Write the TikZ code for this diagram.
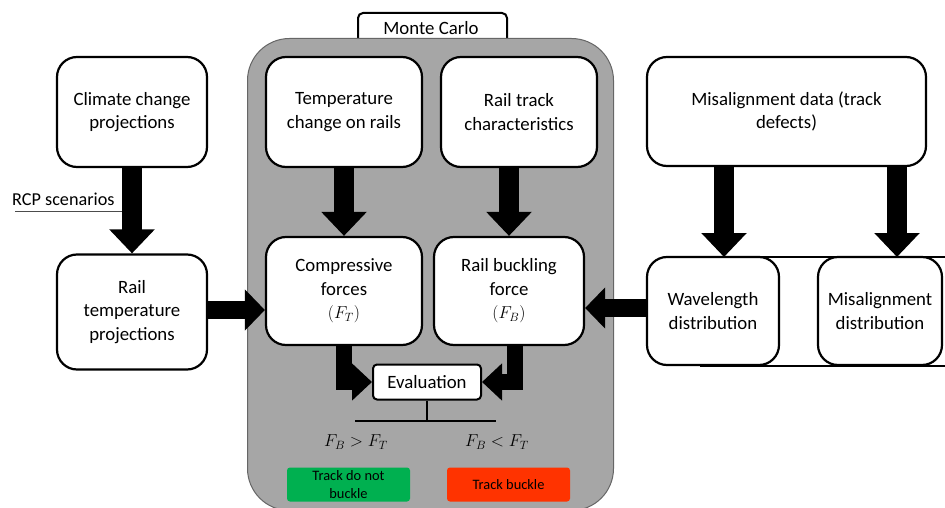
\documentclass[tikz,border=0pt]{standalone}
\usepackage{fontspec}
\setmainfont{Carlito}
\usetikzlibrary{arrows.meta}
\definecolor{mcgray}{RGB}{166,166,166}
\definecolor{okgreen}{RGB}{0,176,80}
\definecolor{badred}{RGB}{255,51,0}
\tikzset{
  box/.style={draw=black, line width=2.2pt, fill=white, rounded corners=20pt,
    align=center, inner sep=0pt, font=\fontsize{18.8}{23.5}\selectfont},
  flow/.style={line width=20pt, -{Triangle[width=44pt,length=24pt]}},
  flowside/.style={line width=18pt, -{Triangle[width=40pt,length=20pt]}},
  flowsmall/.style={line width=16pt, -{Triangle[width=36pt,length=20pt]}},
  result/.style={rounded corners=3pt, align=center, inner sep=0pt,
    font=\fontsize{14.4}{18}\selectfont}
}
\begin{document}
\begin{tikzpicture}[x=1pt,y=-1pt]
\useasboundingbox (0,0) rectangle (945,508);

% Monte Carlo tab and shaded simulation region
\node[draw=black, line width=2pt, fill=white, rounded corners=5pt,
  minimum width=149pt, minimum height=36pt, anchor=north west] (tab) at (357,12) {};
\node[font=\fontsize{18.8}{23}\selectfont] (tablabel) at (431,28) {Monte Carlo};
\node[draw=black!60, line width=1pt, fill=mcgray, rounded corners=42pt,
  minimum width=366pt, minimum height=472pt, anchor=north west] (mc) at (247,38) {};

% Input boxes
\node[box, minimum width=150pt, minimum height=110pt] (climate) at (132,112)
  {Climate change\\projections};
\node[box, minimum width=156pt, minimum height=110pt] (tchange) at (344,112)
  {Temperature\\change on rails};
\node[box, minimum width=156pt, minimum height=110pt] (track) at (519,112)
  {Rail track\\characteristics};
\node[box, minimum width=279pt, minimum height=109pt] (misdata) at (786.5,111.5)
  {Misalignment data (track\\defects)};

% Second row
\node[box, minimum width=150pt, minimum height=115pt] (railtemp) at (132,312)
  {Rail\\temperature\\projections};
\node[box, minimum width=156pt, minimum height=108pt] (comp) at (344,291)
  {Compressive\\forces\\$(F_T)$};
\node[box, minimum width=150pt, minimum height=108pt] (buck) at (509,291)
  {Rail buckling\\force\\$(F_B)$};

% Distribution pair joined by a frame
\coordinate (frameTL) at (700,257);
\coordinate (frameTR) at (945,257);
\coordinate (frameBL) at (700,366);
\coordinate (frameBR) at (945,366);
\draw[line width=2pt] (frameTL) -- (frameTR);
\draw[line width=2pt] (frameBL) -- (frameBR);
\node[box, minimum width=132pt, minimum height=108pt] (wave) at (713,311)
  {Wavelength\\distribution};
\node[box, minimum width=124pt, minimum height=108pt] (misdist) at (880,311)
  {Misalignment\\distribution};

% Evaluation and outcomes
\node[draw=black, line width=2pt, fill=white, rounded corners=4pt,
  minimum width=108pt, minimum height=35pt, font=\fontsize{18.8}{23}\selectfont]
  (eval) at (427,382) {Evaluation};
\coordinate (split) at (427,421);
\coordinate (splitL) at (355,421);
\coordinate (splitR) at (496,421);
\draw[line width=2pt] (eval.south) -- (split);
\draw[line width=2pt] (splitL) -- (splitR);
\node[font=\fontsize{18}{22}\selectfont] (gt) at (356,442) {$F_B > F_T$};
\node[font=\fontsize{18}{22}\selectfont] (lt) at (497,442) {$F_B < F_T$};
\node[result, fill=okgreen, minimum width=123pt, minimum height=34pt] (nobuckle)
  at (348.5,484.5) {Track do not\\buckle};
\node[result, fill=badred, minimum width=123pt, minimum height=34pt] (buckle)
  at (508.5,484.5) {Track buckle};

% RCP scenarios label with its underline
\node[font=\fontsize{18.2}{22}\selectfont, anchor=west, inner sep=0pt] (rcp) at (12,199) {RCP scenarios};
\coordinate (rcpline) at (15,211);
\coordinate (rcpend) at (122,211);
\draw[black!70, line width=0.8pt] (rcpline) -- (rcpend);

% Block arrows
\coordinate (wavein) at (724,257);
\coordinate (distin) at (897,257);
\draw[flow] (climate.south) -- (railtemp.north);
\draw[flow] (tchange.south) -- (comp.north);
\draw[flow] (track.south -| buck.north) -- (buck.north);
\draw[flow] (misdata.south -| wavein) -- (wavein);
\draw[flow] (misdata.south -| distin) -- (distin);
\draw[flowside] (railtemp.east |- 0,310) -- (comp.west |- 0,310);
\draw[flowside] (wave.west |- 0,308) -- (buck.east |- 0,308);
\draw[flowsmall] (comp.south) |- (eval.west);
\draw[flowsmall] ([xshift=6pt]buck.south) |- (eval.east);
\end{tikzpicture}
\end{document}
